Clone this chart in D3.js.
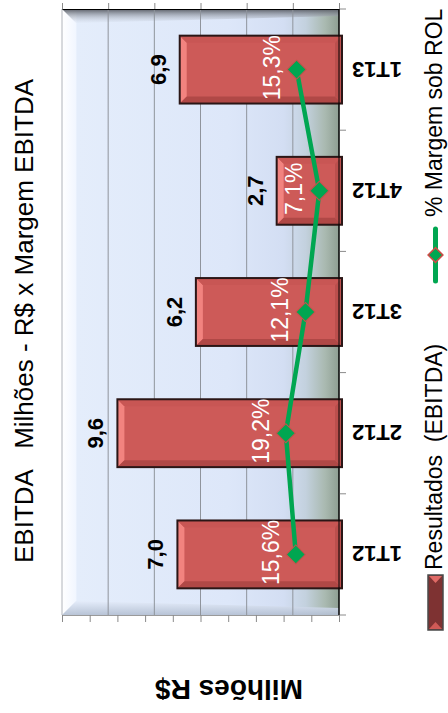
<!DOCTYPE html>
<html>
<head>
<meta charset="utf-8">
<script src="https://cdn.jsdelivr.net/npm/d3@7"></script>
<style>
  html, body { margin: 0; padding: 0; background: #fff; }
  svg { display: block; font-family: "Liberation Sans", Arial, sans-serif; }
</style>
</head>
<body>
<div id="chart"></div>
<script>
"use strict";

// Chart data
const categories = ["1T12", "2T12", "3T12", "4T12", "1T13"];
const ebitda = [7.0, 9.6, 6.2, 2.7, 6.9];
const ebitdaLabels = ["7,0", "9,6", "6,2", "2,7", "6,9"];
const margem = [15.6, 19.2, 12.1, 7.1, 15.3];
const margemLabels = ["15,6%", "19,2%", "12,1%", "7,1%", "15,3%"];
const valueTicks = [0, 2, 4, 6, 8, 10, 12];
const pctTicks = [0, 10, 20, 30, 40, 50, 60, 70, 80, 90, 100];
const titleText = "EBITDA   Milhões - R$ x Margem EBITDA";
const axisTitle = "Milhões R$";
const legendBar = "Resultados  (EBITDA)";
const legendLine = "% Margem sob ROL";

const W = 448, H = 713;
const plot = {left: 62, right: 339, top: 9, bottom: 615};

const svg = d3.select("#chart").append("svg")
  .attr("width", W)
  .attr("height", H);

const defs = svg.append("defs");

// background of the plot (wall + floor shading)
const bg = defs.append("linearGradient").attr("id", "wall")
  .attr("x1", 0).attr("x2", 1).attr("y1", 0).attr("y2", 0);
[[0, "#f8fbff"], [0.05, "#eef4fe"], [0.055, "#e4edfb"], [0.6, "#dde7f9"],
 [0.8, "#d3def3"], [0.88, "#c3d1de"], [0.95, "#a9b9b0"], [1, "#8e9e92"]]
  .forEach(s => bg.append("stop").attr("offset", s[0]).attr("stop-color", s[1]));

const topShade = defs.append("linearGradient").attr("id", "topShade")
  .attr("x1", 0).attr("x2", 0).attr("y1", 0).attr("y2", 1);
topShade.append("stop").attr("offset", 0).attr("stop-color", "#5a5e66");
topShade.append("stop").attr("offset", 1).attr("stop-color", "#d8e0ee").attr("stop-opacity", 0.2);

const botShade = defs.append("linearGradient").attr("id", "botShade")
  .attr("x1", 0).attr("x2", 0).attr("y1", 0).attr("y2", 1);
botShade.append("stop").attr("offset", 0).attr("stop-color", "#e4ecfa");
botShade.append("stop").attr("offset", 1).attr("stop-color", "#b3bfd2");

const leftShade = defs.append("linearGradient").attr("id", "leftShade")
  .attr("x1", 0).attr("x2", 1).attr("y1", 0).attr("y2", 0);
leftShade.append("stop").attr("offset", 0).attr("stop-color", "#ffffff");
leftShade.append("stop").attr("offset", 1).attr("stop-color", "#f1f6ff");

// Scales
const x = d3.scaleLinear().domain([0, 12]).range([plot.right, plot.left]);
const xp = d3.scaleLinear().domain([0, 100]).range([plot.right, plot.left]);
const y = d3.scaleBand().domain(categories)
  .range([plot.bottom, plot.top])
  .paddingInner(0.44)
  .paddingOuter(0.22);
const step = y.step();
const bw = y.bandwidth();

// Plot background
svg.append("rect")
  .attr("x", plot.left).attr("y", plot.top)
  .attr("width", plot.right - plot.left)
  .attr("height", plot.bottom - plot.top)
  .style("fill", "url(#wall)");

const bev = 14;
// left bevel
svg.append("polygon")
  .attr("points", [[plot.left, plot.top], [plot.left + bev, plot.top + bev],
    [plot.left + bev, plot.bottom - bev], [plot.left, plot.bottom]].join(" "))
  .style("fill", "url(#leftShade)");
// top bevel
svg.append("polygon")
  .attr("points", [[plot.left, plot.top], [plot.right, plot.top],
    [plot.right, plot.top + 7], [plot.left + bev, plot.top + bev]].join(" "))
  .style("fill", "url(#topShade)");
// bottom bevel
svg.append("polygon")
  .attr("points", [[plot.left, plot.bottom], [plot.right, plot.bottom],
    [plot.right, plot.bottom - 7], [plot.left + bev, plot.bottom - bev]].join(" "))
  .style("fill", "url(#botShade)").style("opacity", 0.9);

// Gridlines
svg.append("g").selectAll("line")
  .data(valueTicks.slice(0, -1))
  .enter().append("line")
  .attr("x1", d => x(d)).attr("x2", d => x(d))
  .attr("y1", plot.top).attr("y2", plot.bottom)
  .attr("stroke", d => d === 0 ? "#000" : "#8f949c")
  .attr("stroke-width", 1);
svg.append("line")
  .attr("x1", plot.left).attr("x2", plot.left)
  .attr("y1", plot.top).attr("y2", plot.bottom)
  .attr("stroke", "#b0b4bb");

// Top (value) axis
const topAxis = svg.append("g")
  .attr("transform", "translate(0," + plot.top + ")")
  .call(d3.axisTop(x).tickValues(valueTicks).tickSize(6).tickSizeOuter(0).tickFormat(""));
topAxis.select(".domain").attr("stroke", "#000");
topAxis.selectAll(".tick line").attr("stroke", "#8a8a8a");

// Bottom (percent) axis
const botAxis = svg.append("g")
  .attr("transform", "translate(0," + plot.bottom + ")")
  .call(d3.axisBottom(xp).tickValues(pctTicks).tickSize(7).tickSizeOuter(0).tickFormat(""));
botAxis.select(".domain").attr("stroke", "#9a9a9a");
botAxis.selectAll(".tick line").attr("stroke", "#8a8a8a");

// Category axis (right side) with ticks between categories
const bounds = categories.map(c => y(c) + bw / 2 + step / 2).concat([y(categories[categories.length - 1]) + bw / 2 - step / 2]);
svg.append("g").selectAll("line")
  .data(bounds)
  .enter().append("line")
  .attr("x1", plot.right).attr("x2", plot.right + 7)
  .attr("y1", d => d).attr("y2", d => d)
  .attr("stroke", "#8a8a8a");

// Bars
const bars = svg.append("g");
categories.forEach(function(c, i) {
  let x0 = x(ebitda[i]);
  let x1 = x(0) + 3;
  let y0 = y(c);
  let y1 = y0 + bw;
  let b = 7;
  let g = bars.append("g");

  g.append("rect")
    .attr("x", x0).attr("y", y0)
    .attr("width", x1 - x0).attr("height", bw)
    .style("fill", "#cd5a58");
  // bevel strips
  g.append("polygon")
    .attr("points", [[x0, y0], [x0 + b, y0 + b], [x0 + b, y1 - b], [x0, y1]].join(" "))
    .style("fill", "#f2837f");
  g.append("polygon")
    .attr("points", [[x0, y0], [x1, y0], [x1 - b, y0 + b], [x0 + b, y0 + b]].join(" "))
    .style("fill", "#c85654");
  g.append("polygon")
    .attr("points", [[x0, y1], [x1, y1], [x1 - b, y1 - b], [x0 + b, y1 - b]].join(" "))
    .style("fill", "#b04846");
  g.append("polygon")
    .attr("points", [[x1, y0], [x1, y1], [x1 - b, y1 - b], [x1 - b, y0 + b]].join(" "))
    .style("fill", "#bb4f4d");
  g.append("rect")
    .attr("x", x0).attr("y", y0)
    .attr("width", x1 - x0).attr("height", bw)
    .style("fill", "none")
    .style("stroke", "#2a1616")
    .style("stroke-width", 2);
});

// Right axis line on top of bars
svg.append("line")
  .attr("x1", plot.right).attr("x2", plot.right)
  .attr("y1", plot.top).attr("y2", plot.bottom)
  .attr("stroke", "#000");

// Bar value labels
svg.append("g").selectAll("text")
  .data(categories)
  .enter().append("text")
  .attr("transform", (c, i) => "translate(" + (x(ebitda[i]) - 14) + "," + (y(c) + bw / 2) + ") rotate(-90)")
  .attr("text-anchor", "middle")
  .attr("font-size", "22px")
  .attr("font-weight", "bold")
  .attr("fill", "#000")
  .text((c, i) => ebitdaLabels[i]);

// Margin line
const line = d3.line()
  .x((c, i) => xp(margem[i]))
  .y(c => y(c) + bw / 2);
svg.append("path")
  .datum(categories)
  .attr("d", line)
  .attr("fill", "none")
  .attr("stroke", "#00a651")
  .attr("stroke-width", 4.5)
  .attr("stroke-linejoin", "round");

const diamond = d3.symbol().type(d3.symbolSquare).size(180);
svg.append("g").selectAll("path")
  .data(categories)
  .enter().append("path")
  .attr("d", diamond)
  .attr("transform", (c, i) => "translate(" + xp(margem[i]) + "," + (y(c) + bw / 2) + ") rotate(45)")
  .attr("fill", "#00a651")
  .attr("stroke", "#c8504c")
  .attr("stroke-width", 1);

// Margin labels
svg.append("g").selectAll("text")
  .data(categories)
  .enter().append("text")
  .attr("transform", (c, i) => "translate(" + (xp(margem[i]) - 17) + "," + (y(c) + bw / 2 - 2) + ") rotate(-90)")
  .attr("text-anchor", "middle")
  .attr("font-size", "23px")
  .attr("fill", "#fff")
  .text((c, i) => margemLabels[i]);

// Category labels (upside down)
svg.append("g").selectAll("text")
  .data(categories)
  .enter().append("text")
  .attr("transform", c => "translate(377," + (y(c) + bw / 2 - 8) + ") rotate(180)")
  .attr("text-anchor", "middle")
  .attr("font-size", "22px")
  .attr("font-weight", "bold")
  .attr("fill", "#000")
  .text(c => c);

// Title
svg.append("text")
  .attr("transform", "translate(33,321) rotate(-90)")
  .attr("text-anchor", "middle")
  .attr("font-size", "26px")
  .attr("fill", "#000")
  .style("white-space", "pre")
  .text(titleText);

// Axis title (upside down)
svg.append("text")
  .attr("transform", "translate(229,680) rotate(180)")
  .attr("text-anchor", "middle")
  .attr("font-size", "28px")
  .attr("font-weight", "bold")
  .attr("fill", "#000")
  .text(axisTitle);

// Legend
const leg = svg.append("g");
leg.append("rect")
  .attr("x", 428).attr("y", 575)
  .attr("width", 15).attr("height", 55)
  .style("fill", "#7e3232")
  .style("stroke", "#4a4a4a")
  .style("stroke-width", 1.5);
leg.append("polygon")
  .attr("points", [[429, 576], [442, 576], [435.5, 583]].join(" "))
  .style("fill", "#e06a66");
leg.append("polygon")
  .attr("points", [[429, 629], [442, 629], [435.5, 622]].join(" "))
  .style("fill", "#d05a56");
leg.append("text")
  .attr("transform", "translate(442,570) rotate(-90)")
  .attr("font-size", "23px")
  .attr("fill", "#000")
  .style("white-space", "pre")
  .text(legendBar);

leg.append("line")
  .attr("x1", 435.5).attr("x2", 435.5)
  .attr("y1", 229).attr("y2", 281)
  .attr("stroke", "#00a651")
  .attr("stroke-width", 5)
  .attr("stroke-linecap", "round");
leg.append("path")
  .attr("d", d3.symbol().type(d3.symbolSquare).size(110))
  .attr("transform", "translate(435.5,255) rotate(45)")
  .attr("fill", "#00a651")
  .attr("stroke", "#d04a46")
  .attr("stroke-width", 1.5);
leg.append("text")
  .attr("transform", "translate(442,217) rotate(-90)")
  .attr("font-size", "23px")
  .attr("fill", "#000")
  .text(legendLine);
</script>
</body>
</html>
